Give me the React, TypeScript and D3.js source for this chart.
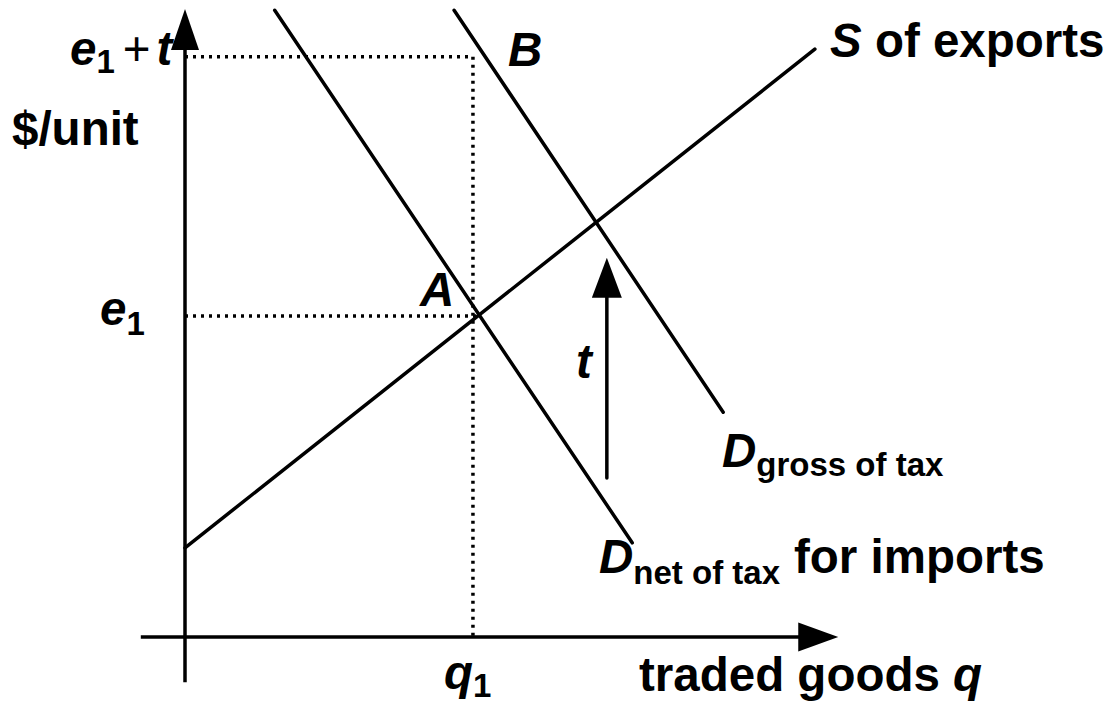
import React from "react";
import * as d3 from "d3";

// ---- data (abstract units: q = traded goods, p = $/unit) ----
const supplyPts: [number, number][] = [[0, 1.42], [9.69, 9.36]];
const demandNetPts: [number, number][] = [[1.38, 9.98], [6.88, 1.5]];
const demandGrossPts: [number, number][] = [[4.14, 9.98], [8.28, 3.58]];
const priceLevels = { e1: 5.11, e1t: 9.24 };
const quantityLevels = { q1: 4.43 };
const taxArrowPts: [number, number][] = [[6.49, 2.53], [6.49, 6.04]];
const xAxisExtent: [number, number] = [-0.68, 10.05];
const yAxisExtent: [number, number] = [-0.72, 10];

const W = 1115;
const H = 704;
const FONT = "'Liberation Sans', Arial, Helvetica, sans-serif";

const x = d3.scaleLinear().domain([0, 10]).range([185, 835]);
const y = d3.scaleLinear().domain([0, 10]).range([637, 9]);

const line = d3
  .line<[number, number]>()
  .x((d) => x(d[0]))
  .y((d) => y(d[1]));

function arrowHead(tx: number, ty: number, dir: "up" | "right", len: number, half: number) {
  if (dir === "up") {
    return `M${tx},${ty} L${tx + half},${ty + len} L${tx - half},${ty + len} Z`;
  }
  return `M${tx},${ty} L${tx - len},${ty - half} L${tx - len},${ty + half} Z`;
}

export default function App() {
  const lw = 3.5;
  const x0 = x(0);
  const y0 = y(0);
  const yE1 = y(priceLevels.e1);
  const yE1t = y(priceLevels.e1t);
  const xQ1 = x(quantityLevels.q1);
  const taxX = x(taxArrowPts[0][0]);
  const taxBottom = y(taxArrowPts[0][1]);
  const taxTop = y(taxArrowPts[1][1]);
  const big = 47.5;
  const sub = 33;

  return (
    <svg
      width={W}
      height={H}
      viewBox={`0 0 ${W} ${H}`}
      style={{ position: "absolute", left: 0, top: 0, background: "#fff" }}
      fontFamily={FONT}
    >
      <rect width={W} height={H} fill="#fff" />
      {/* dotted guides */}
      <g stroke="#000" strokeWidth={3.5} strokeDasharray="3 5" fill="none">
        <line x1={x0} x2={xQ1} y1={yE1t} y2={yE1t} />
        <line x1={xQ1} x2={xQ1} y1={yE1t} y2={y0} />
        <line x1={x0} x2={x(4.52)} y1={yE1} y2={yE1} />
      </g>
      {/* axes */}
      <g stroke="#000" strokeWidth={lw} fill="none">
        <line x1={x0} x2={x0} y1={y(yAxisExtent[0])} y2={y(yAxisExtent[1]) + 30} />
        <line x1={x(xAxisExtent[0])} x2={x(xAxisExtent[1]) - 30} y1={y0} y2={y0} />
      </g>
      <path d={arrowHead(x0, y(yAxisExtent[1]), "up", 41, 14)} fill="#000" />
      <path d={arrowHead(x(xAxisExtent[1]), y0, "right", 40, 14.5)} fill="#000" />

      {/* curves */}
      <g stroke="#000" strokeWidth={lw} fill="none" strokeLinecap="round">
        <path d={line(supplyPts) || ""} />
        <path d={line(demandNetPts) || ""} />
        <path d={line(demandGrossPts) || ""} />
        <line x1={taxX} x2={taxX} y1={taxBottom} y2={taxTop + 30} />
      </g>
      <path d={arrowHead(taxX, taxTop, "up", 40, 15)} fill="#000" />

      {/* labels */}
      <g fill="#000" fontWeight="bold" fontSize={big}>
        <text x={70} y={65}>
          <tspan fontStyle="italic">e</tspan>
          <tspan fontSize={sub} dy={8}>1</tspan>
          <tspan fontWeight="normal" dy={-8} dx={8}>+</tspan>
          <tspan fontStyle="italic" dx={6}>t</tspan>
        </text>
        <text x={12} y={145}>$/unit</text>
        <text x={100} y={325}>
          <tspan fontStyle="italic">e</tspan>
          <tspan fontSize={sub} dy={10}>1</tspan>
        </text>
        <text x={508} y={66} fontStyle="italic">B</text>
        <text x={420} y={306} fontStyle="italic">A</text>
        <text x={576} y={378} fontStyle="italic">t</text>
        <text x={830} y={57}>
          <tspan fontStyle="italic">S</tspan>
          <tspan> of exports</tspan>
        </text>
        <text x={722} y={467}>
          <tspan fontStyle="italic">D</tspan>
          <tspan fontSize={sub} dy={9}>gross of tax</tspan>
        </text>
        <text x={599} y={573}>
          <tspan fontStyle="italic">D</tspan>
          <tspan fontSize={sub} dy={11}>net of tax</tspan>
          <tspan dy={-11} dx={14}>for imports</tspan>
        </text>
        <text x={444} y={689}>
          <tspan fontStyle="italic">q</tspan>
          <tspan fontSize={sub} dy={8}>1</tspan>
        </text>
        <text x={639} y={691}>
          <tspan>traded goods </tspan>
          <tspan fontStyle="italic">q</tspan>
        </text>
      </g>
    </svg>
  );
}
